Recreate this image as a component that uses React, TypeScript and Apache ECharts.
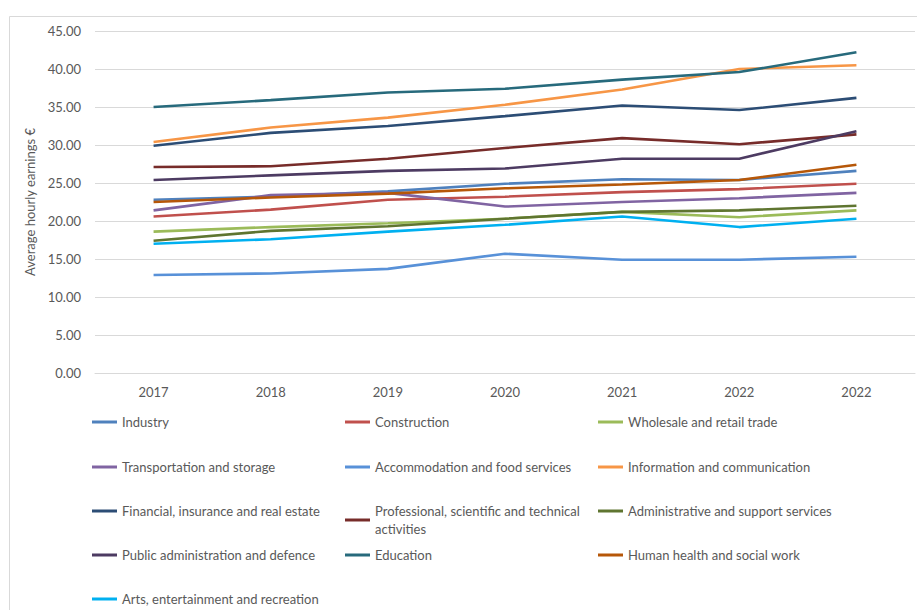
import React, { useEffect, useRef } from "react";
import * as echarts from "echarts";

const years = ["2017", "2018", "2019", "2020", "2021", "2022", "2022"];

const industry = [22.8, 23.2, 23.9, 24.9, 25.5, 25.4, 26.6];
const construction = [20.6, 21.5, 22.8, 23.2, 23.8, 24.2, 24.9];
const wholesale = [18.6, 19.2, 19.7, 20.3, 21.2, 20.5, 21.4];
const transport = [21.4, 23.4, 23.7, 21.9, 22.5, 23.0, 23.7];
const accommodation = [12.9, 13.1, 13.7, 15.7, 14.9, 14.9, 15.3];
const information = [30.4, 32.3, 33.6, 35.3, 37.3, 40.0, 40.5];
const financial = [29.9, 31.6, 32.5, 33.8, 35.2, 34.6, 36.2];
const professional = [27.1, 27.2, 28.2, 29.6, 30.9, 30.1, 31.4];
const admin = [17.4, 18.7, 19.3, 20.3, 21.2, 21.4, 22.0];
const publicAdmin = [25.4, 26.0, 26.6, 26.9, 28.2, 28.2, 31.8];
const education = [35.0, 35.9, 36.9, 37.4, 38.6, 39.6, 42.2];
const health = [22.5, 23.1, 23.6, 24.3, 24.8, 25.4, 27.4];
const arts = [17.0, 17.6, 18.6, 19.5, 20.6, 19.2, 20.3];

const seriesNames = [
  "Industry",
  "Construction",
  "Wholesale and retail trade",
  "Transportation and storage",
  "Accommodation and food services",
  "Information and communication",
  "Financial, insurance and real estate",
  "Professional, scientific and technical activities",
  "Administrative and support services",
  "Public administration and defence",
  "Education",
  "Human health and social work",
  "Arts, entertainment and recreation",
];
const seriesValues = [
  industry,
  construction,
  wholesale,
  transport,
  accommodation,
  information,
  financial,
  professional,
  admin,
  publicAdmin,
  education,
  health,
  arts,
];
const seriesColors = [
  "#4F81BD",
  "#C0504D",
  "#9BBB59",
  "#8064A2",
  "#5891D8",
  "#F79646",
  "#2C4D75",
  "#772C2A",
  "#5F7530",
  "#4D3B62",
  "#276A7C",
  "#B65708",
  "#00B0F0",
];

const yTicks = { min: 0, max: 45, interval: 5 };
const FONT = "Lato";
const TEXT = "#595959";

export default function App() {
  const ref = useRef<HTMLDivElement>(null);
  useEffect(() => {
    if (!ref.current) return;
    const chart = echarts.init(ref.current, null, { renderer: "svg" });
    const rowTops = [413, 458, 502, 546, 590];
    const colLefts = [92, 345, 598];
    const legends = seriesNames.map((name, i) => ({
      left: colLefts[i % 3],
      top: rowTops[Math.floor(i / 3)],
      orient: "horizontal",
      itemGap: 0,
      itemWidth: 25,
      itemHeight: 3,
      icon: "rect",
      padding: 0,
      data: [name],
      textStyle: {
        fontFamily: FONT,
        fontSize: 13,
        color: TEXT,
        width: 223,
        lineHeight: 18,
        overflow: "break",
      },
    }));
    chart.setOption({
      animation: false,
      backgroundColor: "#ffffff",
      textStyle: { fontFamily: FONT },
      graphic: [
        {
          type: "rect",
          shape: { x: 9.5, y: 16.5, width: 1000, height: 1000 },
          style: { fill: "none", stroke: "#d9d9d9", lineWidth: 1 },
          silent: true,
        },
      ],
      grid: { left: 95, right: 2, top: 31, bottom: 237, containLabel: false },
      legend: legends,
      xAxis: {
        type: "category",
        data: years,
        boundaryGap: true,
        axisLine: { show: true, lineStyle: { color: "#d9d9d9", width: 1 } },
        axisTick: { show: false },
        splitLine: { show: false },
        axisLabel: {
          color: TEXT,
          fontFamily: FONT,
          fontSize: 13,
          margin: 12,
        },
      },
      yAxis: {
        type: "value",
        min: yTicks.min,
        max: yTicks.max,
        interval: yTicks.interval,
        name: "Average hourly earnings €",
        nameLocation: "middle",
        nameGap: 50,
        nameRotate: 90,
        nameTextStyle: { color: TEXT, fontFamily: FONT, fontSize: 13 },
        axisLine: { show: false },
        axisTick: { show: false },
        splitLine: { lineStyle: { color: "#d9d9d9", width: 1 } },
        axisLabel: {
          color: TEXT,
          fontFamily: FONT,
          fontSize: 13,
          margin: 14,
          formatter: (v: number) => v.toFixed(2),
        },
      },
      series: seriesNames.map((name, i) => ({
        name,
        type: "line",
        data: seriesValues[i],
        symbol: "none",
        showSymbol: false,
        smooth: false,
        color: seriesColors[i],
        lineStyle: { color: seriesColors[i], width: 2.6 },
        itemStyle: { color: seriesColors[i] },
      })),
    });
    return () => chart.dispose();
  }, []);
  return (
    <div
      ref={ref}
      style={{ position: "fixed", left: 0, top: 0, width: 917, height: 610 }}
    />
  );
}
